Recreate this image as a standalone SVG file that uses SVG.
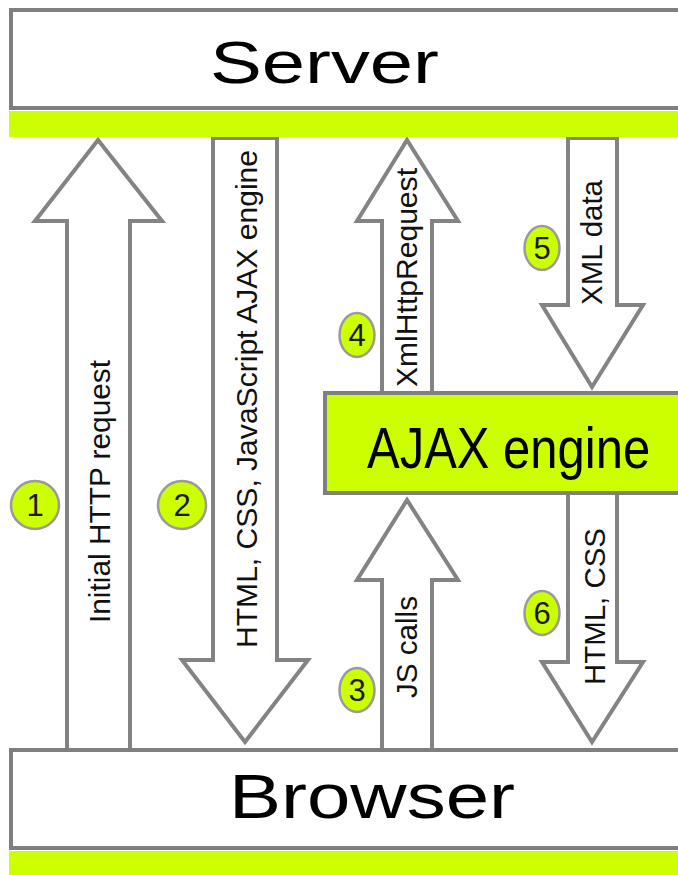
<svg xmlns="http://www.w3.org/2000/svg" width="678" height="875" viewBox="0 0 678 875">
<style>
.fillw{fill:#fff}
.edge{fill:none;stroke:#7f7f7f;stroke-width:4}
.band{fill:#ccff00}
.arrow{fill:#fff;stroke:#838383;stroke-width:4;stroke-linejoin:miter}
.t{font-family:"Liberation Sans",Arial,sans-serif;fill:#000}
.lbl{font-family:"Liberation Sans",Arial,sans-serif;font-size:29px;fill:#111}
.num{fill:#ccff00;stroke:#9a9a9a;stroke-width:2.5}
.numt{font-family:"Liberation Sans",Arial,sans-serif;font-size:31px;fill:#1a1a1a;text-anchor:middle}
</style>
<rect width="678" height="875" fill="#fff"/>
<g id="connectors">
  <g id="c1"><polygon class="arrow" points="67,750 67,221 35,221 98,140 162,221 130,221 130,750"/>
    <text class="lbl" transform="translate(110,623) rotate(-90)" textLength="263" lengthAdjust="spacingAndGlyphs">Initial HTTP request</text></g>
  <g id="c2"><polygon class="arrow" points="213,138 277,138 277,660 308,660 245,742 182,660 213,660"/>
    <text class="lbl" transform="translate(257,648) rotate(-90)" textLength="498" lengthAdjust="spacingAndGlyphs">HTML, CSS, JavaScript AJAX engine</text></g>
  <g id="c4"><polygon class="arrow" points="382,393 382,221 357,221 407,140 458,221 432,221 432,393"/>
    <text class="lbl" transform="translate(417,387) rotate(-90)" textLength="219" lengthAdjust="spacingAndGlyphs">XmlHttpRequest</text></g>
  <g id="c5"><polygon class="arrow" points="568,138 617,138 617,305 643,305 592,387 542,305 568,305"/>
    <text class="lbl" transform="translate(602,305) rotate(-90)" textLength="125" lengthAdjust="spacingAndGlyphs">XML data</text></g>
  <g id="c3"><polygon class="arrow" points="382,750 382,580 357,580 407,500 458,580 432,580 432,750"/>
    <text class="lbl" transform="translate(417,698) rotate(-90)" textLength="102" lengthAdjust="spacingAndGlyphs">JS calls</text></g>
  <g id="c6"><polygon class="arrow" points="568,493 617,493 617,662 643,662 592,742 542,662 568,662"/>
    <text class="lbl" transform="translate(605,685) rotate(-90)" textLength="157" lengthAdjust="spacingAndGlyphs">HTML, CSS</text></g>
</g>
<g id="server">
  <rect class="fillw" x="11" y="10" width="667" height="98"/>
  <path class="edge" d="M678,10 H11 V108 H678"/>
  <rect class="band" x="9" y="111" width="669" height="26"/>
  <text class="t" x="210" y="83" font-size="60" textLength="229" lengthAdjust="spacingAndGlyphs">Server</text>
</g>
<g id="browser">
  <rect class="fillw" x="11" y="750" width="667" height="98"/>
  <path class="edge" d="M678,750 H11 V848 H678"/>
  <rect class="band" x="9" y="851" width="669" height="24"/>
  <text class="t" x="229" y="818" font-size="63" textLength="286" lengthAdjust="spacingAndGlyphs">Browser</text>
</g>
<g id="ajax">
  <rect x="325" y="393" width="353" height="100" fill="#ccff00"/>
  <path class="edge" d="M678,393 H325 V493 H678"/>
  <text class="t" transform="translate(367,468) scale(1,1.163)" x="0" y="0" font-size="49">AJAX engine</text>
</g>
<g id="n1"><ellipse class="num" cx="35" cy="505" rx="24" ry="24"/><text class="numt" x="35" y="516">1</text></g>
<g id="n2"><ellipse class="num" cx="182" cy="505" rx="24" ry="24"/><text class="numt" x="182" y="516">2</text></g>
<g id="n3"><ellipse class="num" cx="357" cy="690" rx="17.5" ry="22"/><text class="numt" x="357" y="701" font-size="29">3</text></g>
<g id="n4"><ellipse class="num" cx="357" cy="335" rx="17.5" ry="22"/><text class="numt" x="357" y="346" font-size="29">4</text></g>
<g id="n5"><ellipse class="num" cx="542" cy="248" rx="17.5" ry="22"/><text class="numt" x="542" y="259" font-size="29">5</text></g>
<g id="n6"><ellipse class="num" cx="542" cy="613" rx="17.5" ry="22"/><text class="numt" x="542" y="624" font-size="29">6</text></g>
</svg>
